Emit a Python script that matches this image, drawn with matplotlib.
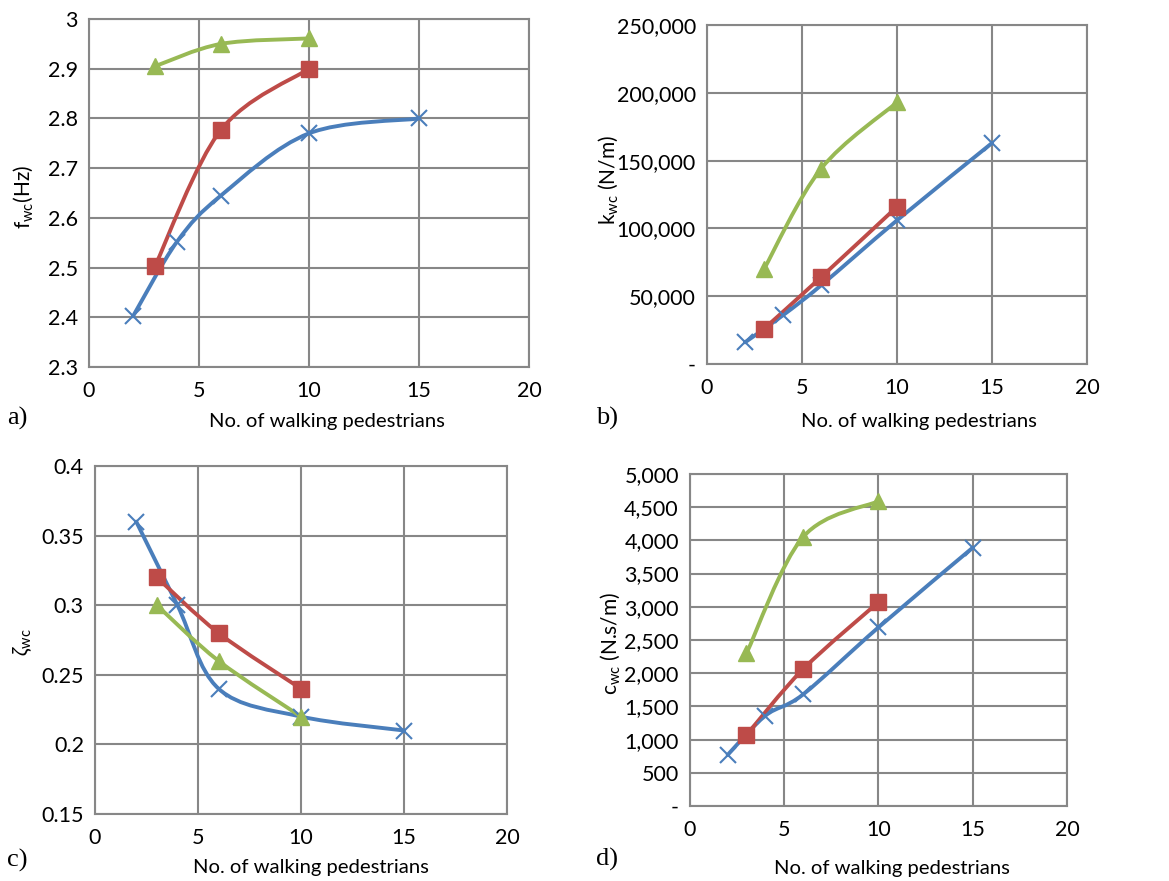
import numpy as np
import matplotlib
matplotlib.use('Agg')
import matplotlib.pyplot as plt
from matplotlib.path import Path
from matplotlib.patches import PathPatch
from matplotlib.ticker import FuncFormatter, MultipleLocator
from matplotlib import rcParams

rcParams.update({
    "font.family": ['Lato', 'DejaVu Sans'],
    "mathtext.fontset": 'custom',
    "mathtext.rm": 'Lato',
    "mathtext.it": 'Lato:italic',
    "axes.unicode_minus": False,
})

# ---- data ----
n_blue = [2, 4, 6, 10, 15]
n_red = [3, 6, 10]
n_green = [3, 6, 10]

f_blue = [2.402, 2.552, 2.645, 2.770, 2.800]
f_red = [2.503, 2.777, 2.900]
f_green = [2.905, 2.950, 2.961]

k_blue = [16000, 36000, 58000, 106000, 163000]
k_red = [26000, 64000, 116000]
k_green = [70000, 144000, 193000]

z_blue = [0.360, 0.300, 0.240, 0.220, 0.210]
z_red = [0.320, 0.280, 0.240]
z_green = [0.300, 0.260, 0.220]

c_blue = [770, 1360, 1680, 2690, 3890]
c_red = [1070, 2060, 3070]
c_green = [2300, 4050, 4590]

BLUE = '#4A7EBB'
RED = '#BE4B48'
GREEN = '#98B954'
GRID = '#878787'


def smooth_path(x, y):
    # excel-like smoothed line: cubic bezier through the points
    p = np.column_stack([x, y]).astype(float)
    n = len(p)
    verts = [p[0]]
    codes = [Path.MOVETO]
    for i in range(n - 1):
        p0 = p[i - 1] if i > 0 else p[i]
        p1 = p[i]
        p2 = p[i + 1]
        p3 = p[i + 2] if i + 2 < n else p[i + 1]
        c1 = p1 + (p2 - p0) / 6.0
        c2 = p2 - (p3 - p1) / 6.0
        verts += [c1, c2, p2]
        codes += [Path.CURVE4] * 3
    return Path(verts, codes)


def series(ax, x, y, color, marker, ms, mew=1.0):
    ax.add_patch(PathPatch(smooth_path(x, y), fill=False, edgecolor=color,
                           lw=2.8, capstyle='round', joinstyle='round', zorder=3))
    ax.plot(x, y, ls='none', marker=marker, ms=ms, color=color,
            mfc=color, mec=color, mew=mew, zorder=4, clip_on=False)


def thousands(v, pos):
    if abs(v) < 1e-9:
        return '-'
    return '{:,.0f}'.format(v)


def plain(v, pos):
    return '{:g}'.format(round(v, 4))


fig = plt.figure(figsize=(11.69, 8.81), dpi=100)

boxes = {
    'a': [0.0761, 0.5834, 0.3764, 0.3950],
    'b': [0.6048, 0.5868, 0.3251, 0.3848],
    'c': [0.0813, 0.0760, 0.3524, 0.3951],
    'd': [0.5902, 0.0851, 0.3225, 0.3769],
}

panels = [
    ('a', f_blue, f_red, f_green, (2.3, 3.0), 0.1, plain),
    ('b', k_blue, k_red, k_green, (0, 250000), 50000, thousands),
    ('c', z_blue, z_red, z_green, (0.15, 0.4), 0.05, plain),
    ('d', c_blue, c_red, c_green, (0, 5000), 500, thousands),
]

axes = {}
for key, yb, yr, yg, ylim, step, fmt in panels:
    ax = fig.add_axes(boxes[key])
    axes[key] = ax
    ax.set_xlim(0, 20)
    ax.set_ylim(*ylim)
    ax.xaxis.set_major_locator(MultipleLocator(5))
    ax.yaxis.set_major_locator(MultipleLocator(step))
    ax.yaxis.set_major_formatter(FuncFormatter(fmt))
    ax.grid(True, color=GRID, lw=1.5)
    ax.set_axisbelow(True)
    for s in ax.spines.values():
        s.set_color(GRID)
        s.set_linewidth(1.5)
    ax.tick_params(length=0, labelsize=15.5, pad=8, colors='black')
    ax.tick_params(axis='x', pad=10)
    series(ax, n_blue, yb, BLUE, 'x', 12, 1.5)
    series(ax, n_red, yr, RED, 's', 11)
    series(ax, n_green, yg, GREEN, '^', 11)

# axis titles
xt = 'No. of walking pedestrians'
fig.text(0.2797, 0.522, xt, fontsize=14.6, ha='center', va='center')
fig.text(0.7861, 0.522, xt, fontsize=14.6, ha='center', va='center')
fig.text(0.2660, 0.015, xt, fontsize=14.6, ha='center', va='center')
fig.text(0.7630, 0.014, xt, fontsize=14.6, ha='center', va='center')

fig.text(0.0197, 0.776, r'f$_{\rm wc}$(Hz)', fontsize=15, rotation=90, ha='center', va='center')
fig.text(0.5201, 0.796, r'k$_{\rm wc}$ (N/m)', fontsize=15, rotation=90, ha='center', va='center')
fig.text(0.0197, 0.271, r'$\zeta_{\rm wc}$', fontsize=15, rotation=90, ha='center', va='center')
fig.text(0.5218, 0.270, r'c$_{\rm wc}$ (N.s/m)', fontsize=15, rotation=90, ha='center', va='center')

# panel letters
for lab, x, y in [('a)', 0.006, 0.525), ('b)', 0.510, 0.525),
                  ('c)', 0.006, 0.023), ('d)', 0.510, 0.025)]:
    fig.text(x, y, lab, fontsize=19, family='Liberation Serif', ha='left', va='center')

fig.savefig('out.png', dpi=100)
